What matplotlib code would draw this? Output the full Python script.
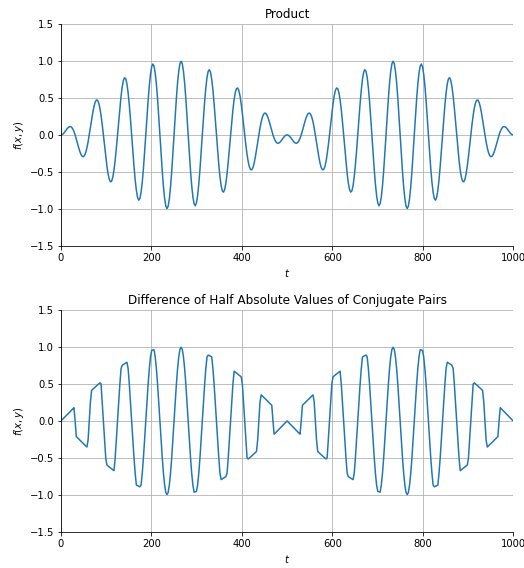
import numpy as np
import matplotlib
matplotlib.use("Agg")
import matplotlib.pyplot as plt

# sample positions along t (385 samples over 0..1000)
t = np.linspace(0, 1000, 385)

# product x*y
product = [
    0, .004, .016, .035, .057, .079, .098, .110, .113, .104, .081, .046,
    0, -.055, -.114, -.172, -.224, -.265, -.290, -.295, -.278, -.238, -.176, -.095,
    0, .103, .206, .302, .383, .441, .471, .469, .433, .364, .264, .140,
    0, -.147, -.291, -.421, -.527, -.600, -.634, -.625, -.571, -.475, -.342, -.180,
    0, .186, .365, .524, .651, .737, .773, .757, .687, .568, .406, .213,
    0, -.218, -.425, -.607, -.750, -.844, -.882, -.859, -.777, -.639, -.455, -.237,
    0, .241, .468, .666, .820, .920, .957, .929, .837, .686, .487, .253,
    0, -.255, -.493, -.699, -.859, -.960, -.995, -.963, -.864, -.706, -.500, -.259,
    0, .259, .500, .706, .864, .963, .995, .960, .859, .699, .493, .255,
    0, -.253, -.487, -.686, -.837, -.929, -.957, -.920, -.820, -.666, -.468, -.241,
    0, .237, .455, .639, .777, .859, .882, .844, .750, .607, .425, .218,
    0, -.213, -.406, -.568, -.687, -.757, -.773, -.737, -.651, -.524, -.365, -.186,
    0, .180, .342, .475, .571, .625, .634, .600, .527, .421, .291, .147,
    0, -.140, -.264, -.364, -.433, -.469, -.471, -.441, -.383, -.302, -.206, -.103,
    0, .095, .176, .238, .278, .295, .290, .265, .224, .172, .114, .055,
    0, -.046, -.081, -.104, -.113, -.110, -.098, -.079, -.057, -.035, -.016, -.004,
    0,
    -.004, -.016, -.035, -.057, -.079, -.098, -.110, -.113, -.104, -.081, -.046, 0,
    .055, .114, .172, .224, .265, .290, .295, .278, .238, .176, .095, 0,
    -.103, -.206, -.302, -.383, -.441, -.471, -.469, -.433, -.364, -.264, -.140, 0,
    .147, .291, .421, .527, .600, .634, .625, .571, .475, .342, .180, 0,
    -.186, -.365, -.524, -.651, -.737, -.773, -.757, -.687, -.568, -.406, -.213, 0,
    .218, .425, .607, .750, .844, .882, .859, .777, .639, .455, .237, 0,
    -.241, -.468, -.666, -.820, -.920, -.957, -.929, -.837, -.686, -.487, -.253, 0,
    .255, .493, .699, .859, .960, .995, .963, .864, .706, .500, .259, 0,
    -.259, -.500, -.706, -.864, -.963, -.995, -.960, -.859, -.699, -.493, -.255, 0,
    .253, .487, .686, .837, .929, .957, .920, .820, .666, .468, .241, 0,
    -.237, -.455, -.639, -.777, -.859, -.882, -.844, -.750, -.607, -.425, -.218, 0,
    .213, .406, .568, .687, .757, .773, .737, .651, .524, .365, .186, 0,
    -.180, -.342, -.475, -.571, -.625, -.634, -.600, -.527, -.421, -.291, -.147, 0,
    .140, .264, .364, .433, .469, .471, .441, .383, .302, .206, .103, 0,
    -.095, -.176, -.238, -.278, -.295, -.290, -.265, -.224, -.172, -.114, -.055, 0,
    .046, .081, .104, .113, .110, .098, .079, .057, .035, .016, .004, 0,
]

# (|x + y| - |x - y|) / 2
half_abs_diff = [
    0, .016, .033, .049, .065, .082, .098, .114, .131, .147, .163, .179,
    0, -.211, -.227, -.243, -.259, -.275, -.290, -.306, -.321, -.337, -.352, -.259,
    0, .259, .413, .428, .442, .457, .471, .486, .500, .514, .500, .259,
    0, -.259, -.500, -.596, -.609, -.622, -.634, -.647, -.659, -.672, -.500, -.259,
    0, .259, .500, .707, .752, .763, .773, .783, .793, .707, .500, .259,
    0, -.259, -.500, -.707, -.866, -.874, -.882, -.890, -.866, -.707, -.500, -.259,
    0, .259, .500, .707, .866, .952, .957, .962, .866, .707, .500, .259,
    0, -.259, -.500, -.707, -.866, -.966, -.995, -.966, -.866, -.707, -.500, -.259,
    0, .259, .500, .707, .866, .966, .995, .966, .866, .707, .500, .259,
    0, -.259, -.500, -.707, -.866, -.962, -.957, -.952, -.866, -.707, -.500, -.259,
    0, .259, .500, .707, .866, .890, .882, .874, .866, .707, .500, .259,
    0, -.259, -.500, -.707, -.793, -.783, -.773, -.763, -.752, -.707, -.500, -.259,
    0, .259, .500, .672, .659, .647, .634, .622, .609, .596, .500, .259,
    0, -.259, -.500, -.514, -.500, -.486, -.471, -.457, -.442, -.428, -.413, -.259,
    0, .259, .352, .337, .321, .306, .290, .275, .259, .243, .227, .211,
    0, -.179, -.163, -.147, -.131, -.114, -.098, -.082, -.065, -.049, -.033, -.016,
    0,
    -.016, -.033, -.049, -.065, -.082, -.098, -.114, -.131, -.147, -.163, -.179, 0,
    .211, .227, .243, .259, .275, .290, .306, .321, .337, .352, .259, 0,
    -.259, -.413, -.428, -.442, -.457, -.471, -.486, -.500, -.514, -.500, -.259, 0,
    .259, .500, .596, .609, .622, .634, .647, .659, .672, .500, .259, 0,
    -.259, -.500, -.707, -.752, -.763, -.773, -.783, -.793, -.707, -.500, -.259, 0,
    .259, .500, .707, .866, .874, .882, .890, .866, .707, .500, .259, 0,
    -.259, -.500, -.707, -.866, -.952, -.957, -.962, -.866, -.707, -.500, -.259, 0,
    .259, .500, .707, .866, .966, .995, .966, .866, .707, .500, .259, 0,
    -.259, -.500, -.707, -.866, -.966, -.995, -.966, -.866, -.707, -.500, -.259, 0,
    .259, .500, .707, .866, .962, .957, .952, .866, .707, .500, .259, 0,
    -.259, -.500, -.707, -.866, -.890, -.882, -.874, -.866, -.707, -.500, -.259, 0,
    .259, .500, .707, .793, .783, .773, .763, .752, .707, .500, .259, 0,
    -.259, -.500, -.672, -.659, -.647, -.634, -.622, -.609, -.596, -.500, -.259, 0,
    .259, .500, .514, .500, .486, .471, .457, .442, .428, .413, .259, 0,
    -.259, -.352, -.337, -.321, -.306, -.290, -.275, -.259, -.243, -.227, -.211, 0,
    .179, .163, .147, .131, .114, .098, .082, .065, .049, .033, .016, 0,
]

titles = ["Product", "Difference of Half Absolute Values of Conjugate Pairs"]
x_ticks = [0, 200, 400, 600, 800, 1000]
y_ticks = [-1.5, -1.0, -0.5, 0.0, 0.5, 1.0, 1.5]

fig = plt.figure(figsize=(524 / 72, 568 / 72), dpi=72)
ax1 = fig.add_axes([0.1164, 0.567, 0.863, 0.391])
ax2 = fig.add_axes([0.1164, 0.0634, 0.863, 0.391])

for ax, values, title in zip([ax1, ax2], [product, half_abs_diff], titles):
    ax.plot(t, values, color="#1f77b4", linewidth=1.5)
    ax.set_xlim(0, 1000)
    ax.set_ylim(-1.5, 1.5)
    ax.set_xticks(x_ticks)
    ax.set_yticks(y_ticks)
    ax.grid(True, color="#b0b0b0", linewidth=0.8)
    ax.spines["top"].set_visible(False)
    ax.spines["right"].set_visible(False)
    ax.set_title(title, fontsize=12)
    ax.set_xlabel("$t$")
    ax.set_ylabel("$f(x,y)$")

fig.savefig("out.png", dpi=72)
